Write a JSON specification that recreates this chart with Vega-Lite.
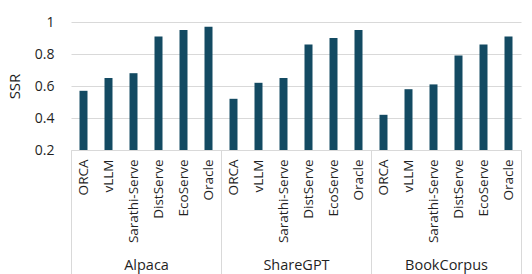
{
  "$schema": "https://vega.github.io/schema/vega-lite/v6.json",
  "padding": {"left": 7, "top": 15, "right": 5, "bottom": 0},
  "width": 450,
  "height": 128,
  "config": {
    "font": "Open Sans",
    "view": {"stroke": null},
    "axis": {"labelColor": "#1f1f1f", "titleColor": "#1f1f1f"}
  },
  "data": {
    "values": [
      {"dataset": "Alpaca", "system": "ORCA", "key": "Alpaca|ORCA", "ssr": 0.57},
      {"dataset": "Alpaca", "system": "vLLM", "key": "Alpaca|vLLM", "ssr": 0.65},
      {"dataset": "Alpaca", "system": "Sarathi-Serve", "key": "Alpaca|Sarathi-Serve", "ssr": 0.68},
      {"dataset": "Alpaca", "system": "DistServe", "key": "Alpaca|DistServe", "ssr": 0.91},
      {"dataset": "Alpaca", "system": "EcoServe", "key": "Alpaca|EcoServe", "ssr": 0.95},
      {"dataset": "Alpaca", "system": "Oracle", "key": "Alpaca|Oracle", "ssr": 0.97},
      {"dataset": "ShareGPT", "system": "ORCA", "key": "ShareGPT|ORCA", "ssr": 0.52},
      {"dataset": "ShareGPT", "system": "vLLM", "key": "ShareGPT|vLLM", "ssr": 0.62},
      {"dataset": "ShareGPT", "system": "Sarathi-Serve", "key": "ShareGPT|Sarathi-Serve", "ssr": 0.65},
      {"dataset": "ShareGPT", "system": "DistServe", "key": "ShareGPT|DistServe", "ssr": 0.86},
      {"dataset": "ShareGPT", "system": "EcoServe", "key": "ShareGPT|EcoServe", "ssr": 0.90},
      {"dataset": "ShareGPT", "system": "Oracle", "key": "ShareGPT|Oracle", "ssr": 0.95},
      {"dataset": "BookCorpus", "system": "ORCA", "key": "BookCorpus|ORCA", "ssr": 0.42},
      {"dataset": "BookCorpus", "system": "vLLM", "key": "BookCorpus|vLLM", "ssr": 0.58},
      {"dataset": "BookCorpus", "system": "Sarathi-Serve", "key": "BookCorpus|Sarathi-Serve", "ssr": 0.61},
      {"dataset": "BookCorpus", "system": "DistServe", "key": "BookCorpus|DistServe", "ssr": 0.79},
      {"dataset": "BookCorpus", "system": "EcoServe", "key": "BookCorpus|EcoServe", "ssr": 0.86},
      {"dataset": "BookCorpus", "system": "Oracle", "key": "BookCorpus|Oracle", "ssr": 0.91}
    ]
  },
  "layer": [
    {
      "mark": {"type": "bar", "color": "#134a62"},
      "encoding": {
        "x": {
          "field": "key", "type": "nominal", "sort": null,
          "scale": {"paddingInner": 0.68, "paddingOuter": 0.34},
          "axis": {
            "title": null,
            "labelExpr": "split(datum.value, '|')[1]",
            "labelAngle": -90,
            "labelFontSize": 13.5,
            "labelPadding": 9,
            "ticks": false,
            "domainColor": "#d9d9d9"
          }
        },
        "y": {
          "field": "ssr", "type": "quantitative",
          "scale": {"domain": [0.2, 1], "nice": false, "zero": false},
          "axis": {
            "title": "SSR",
            "values": [0.2, 0.4, 0.6, 0.8, 1],
            "format": "~g",
            "domain": false,
            "ticks": false,
            "gridColor": "#d9d9d9",
            "labelFontSize": 14,
            "labelPadding": 17,
            "titleFontSize": 15,
            "titleFontWeight": "normal",
            "titlePadding": 12
          }
        },
        "y2": {"datum": 0.2}
      }
    },
    {
      "mark": {"type": "bar", "opacity": 0},
      "encoding": {
        "x": {
          "field": "dataset", "type": "nominal",
          "sort": ["Alpaca", "ShareGPT", "BookCorpus"],
          "scale": {"paddingInner": 0, "paddingOuter": 0},
          "axis": {
            "orient": "bottom",
            "title": null,
            "labelAngle": 0,
            "tickBand": "extent",
            "tickSize": 124,
            "tickColor": "#d9d9d9",
            "domain": false,
            "grid": false,
            "labelFontSize": 14.5,
            "labelPadding": -16
          }
        }
      }
    }
  ],
  "resolve": {"scale": {"x": "independent"}, "axis": {"x": "independent"}}
}
